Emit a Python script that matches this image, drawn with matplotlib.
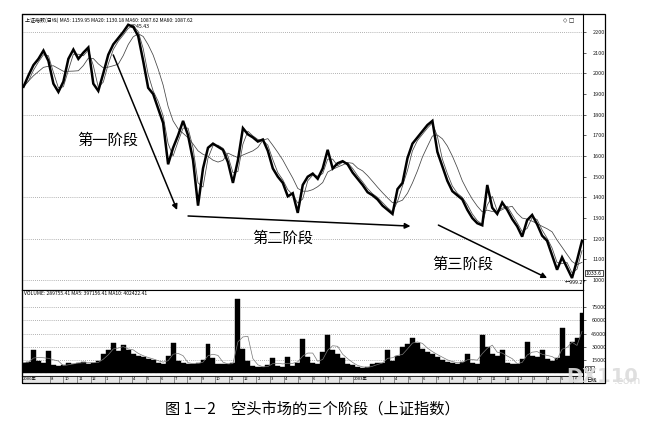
import numpy as np
import pandas as pd
import matplotlib
matplotlib.use("Agg")
import matplotlib.pyplot as plt
from matplotlib.patches import Rectangle

plt.rcParams['font.family'] = ['Noto Sans CJK SC', 'DejaVu Sans']

# closes, one every ~5 px
close = [
    1935, 1990, 2040, 2070, 2110, 2060, 1950, 1910, 1960, 2070,
    2115, 2070, 2100, 2125, 1950, 1915, 2000, 2090, 2140, 2170,
    2200, 2235, 2225, 2180, 2060, 1930, 1900, 1830, 1760, 1560,
    1640, 1700, 1770, 1700, 1580, 1360, 1540, 1640, 1660, 1645,
    1630, 1570, 1470, 1580, 1735, 1705, 1690, 1670, 1680, 1625,
    1540, 1500, 1470, 1405, 1420, 1325, 1460, 1500, 1515, 1490,
    1540, 1630, 1540, 1565, 1575, 1560, 1520, 1490, 1460, 1425,
    1410, 1390, 1360, 1340, 1320, 1440, 1470, 1590, 1660, 1690,
    1720, 1750, 1770, 1620, 1550, 1480, 1430, 1410, 1390, 1340,
    1300, 1275, 1265, 1460, 1350, 1320, 1375, 1340, 1295, 1260,
    1210, 1290, 1315, 1270, 1215, 1190, 1120, 1050, 1110, 1060,
    1010, 1095, 1190,
]
volume = [
    12000, 13000, 27000, 14000, 12000, 25000, 9000, 8000, 9000, 12000,
    11000, 12000, 13000, 11000, 12000, 14000, 22000, 27000, 34000, 25000,
    32000, 26000, 22000, 20000, 18000, 16000, 15000, 12000, 11000, 20000,
    34000, 14000, 12000, 10000, 11000, 12000, 15000, 33000, 17000, 11000,
    10000, 11000, 12000, 84000, 28000, 14000, 8000, 7000, 7000, 9000,
    17000, 8000, 7000, 19000, 8000, 12000, 39000, 18000, 12000, 11000,
    24000, 44000, 26000, 22000, 17000, 11000, 9000, 7000, 6000, 7000,
    11000, 12000, 12000, 27000, 14000, 20000, 30000, 33000, 40000, 34000,
    28000, 24000, 22000, 18000, 15000, 13000, 12000, 11000, 13000, 22000,
    12000, 11000, 44000, 30000, 22000, 20000, 27000, 12000, 11000, 10000,
    16000, 36000, 20000, 18000, 27000, 16000, 14000, 17000, 51000, 20000,
    35000, 40000, 68000,
]
price_ticks = [2200, 2100, 2000, 1900, 1800, 1700, 1600, 1500, 1400, 1300, 1200, 1100, 1000]
price_grid = [2200, 2000, 1800, 1600, 1400, 1200, 1000]
vol_ticks = [75000, 60000, 45000, 30000, 15000]
stage_labels = ["第一阶段", "第二阶段", "第三阶段"]
# "" keeps an empty slot after a long label
date_labels = ["2000年", "", "8", "10", "11", "12", "1", "3", "4", "5", "6", "7",
               "8", "9", "10", "11", "12", "2", "3", "4", "5", "6", "7", "8",
               "2003年", "", "3", "4", "5", "6", "7", "8", "9", "10", "11", "12",
               "2", "3", "4", "5", "6"]
caption = "图 1－2　空头市场的三个阶段（上证指数）"

s = pd.Series(close, dtype=float)
ma_fast = s.rolling(2, min_periods=1).mean()
ma_slow = s.rolling(6, min_periods=1).mean()
x = np.arange(len(close))

W, H = 651, 422
fig = plt.figure(figsize=(W / 100, H / 100), dpi=100)
L, R = 22 / W, 583 / W
ax = fig.add_axes([L, 1 - 290 / H, R - L, (290 - 14) / H])
axv = fig.add_axes([L, 1 - 376 / H, R - L, (376 - 290) / H])

# price panel
for g in price_grid:
    ax.axhline(g, color="#999999", lw=0.6, ls=(0, (1, 1.5)), zorder=0)
ax.plot(x, ma_slow, color="#444444", lw=0.55)
ax.plot(x, ma_fast, color="#444444", lw=0.55)
ax.plot(x, close, color="black", lw=1.8, solid_joinstyle="miter")
ax.set_xlim(-0.3, 112.2)
ax.set_ylim(952, 2287)
ax.set_xticks([])
ax.yaxis.tick_right()
ax.set_yticks(price_ticks)
ax.set_yticklabels([str(t) for t in price_ticks])
ax.tick_params(axis="y", labelsize=4, length=2, width=0.5, pad=5, colors="#222222")
for sp in ax.spines.values():
    sp.set_linewidth(0.8)

ax.text(0.006, 0.988, "上证指数(日线) MA5: 1159.95 MA20: 1130.18 MA60: 1087.62 MA60: 1087.62",
        transform=ax.transAxes, fontsize=3.6, va="top", ha="left")
ax.text(21.6, 2228, "2245.43", fontsize=3.8, va="center", ha="left")
ax.text(108.5, 990, "←999.27", fontsize=3.8, va="center", ha="left")
ax.text(0.985, 0.985, "◇ □", transform=ax.transAxes, fontsize=4, va="top", ha="right",
        family=["DejaVu Sans"])
ax.text(1.005, 1033.6, "1033.6", transform=ax.get_yaxis_transform(), fontsize=3.8,
        va="center", ha="left", bbox=dict(boxstyle="square,pad=0.15", fc="white", ec="black", lw=0.5))

# stage arrows and labels
arrow = dict(arrowstyle="-|>", color="black", lw=1.1, mutation_scale=8, shrinkA=0, shrinkB=0)
ax.annotate("", xy=(30.8, 1339), xytext=(18, 2089), arrowprops=arrow)
ax.annotate("", xy=(77.6, 1261), xytext=(33, 1310), arrowprops=arrow)
ax.annotate("", xy=(105, 1010), xytext=(83.2, 1266), arrowprops=arrow)
ax.text(17, 1677, stage_labels[0], fontsize=11, ha="center", va="center", fontweight="light")
ax.text(52, 1203, stage_labels[1], fontsize=11, ha="center", va="center", fontweight="light")
ax.text(88, 1078, stage_labels[2], fontsize=11, ha="center", va="center", fontweight="light")

# volume panel
for g in vol_ticks:
    axv.axhline(g, color="#999999", lw=0.6, ls=(0, (1, 1.5)), zorder=0)
axv.bar(x, volume, width=1.0, color="black", edgecolor="black", lw=0.3)
axv.plot(x, pd.Series(volume).rolling(3, min_periods=1).mean(), color="#777777", lw=0.5)
axv.set_xlim(-0.3, 112.2)
axv.set_ylim(-3070, 94660)
axv.set_xticks([])
axv.yaxis.tick_right()
axv.set_yticks(vol_ticks)
axv.set_yticklabels([str(t) for t in vol_ticks])
axv.tick_params(axis="y", labelsize=4, length=2, width=0.5, pad=4, colors="#222222")
for sp in axv.spines.values():
    sp.set_linewidth(0.8)
axv.text(0.004, 0.985, "VOLUME: 289755.41 MA5: 397156.41 MA10: 402422.41",
         transform=axv.transAxes, fontsize=3.6, va="top", ha="left")
axv.text(1.004, 4500, "X10", transform=axv.get_yaxis_transform(), fontsize=3.5,
         va="center", ha="left", bbox=dict(boxstyle="square,pad=0.1", fc="white", ec="black", lw=0.4))

# date strip
axd = fig.add_axes([L, 1 - 383 / H, R - L, 7 / H])
axd.set_xlim(0, 1)
axd.set_ylim(0, 1)
axd.set_xticks([])
axd.set_yticks([])
axd.set_facecolor("#e6e6e6")
for sp in axd.spines.values():
    sp.set_linewidth(0.6)
pos = np.linspace(0.002, 0.985, len(date_labels))
for p, lab in zip(pos, date_labels):
    if lab:
        axd.text(p, 0.5, lab, fontsize=3.0, va="center", ha="left")
        axd.axvline(p - 0.002, color="#444444", lw=0.4)
fig.text(586 / W, 1 - 380 / H, "日线", fontsize=3.8, va="center", ha="left")

# outer frame
fig.add_artist(Rectangle((L, 1 - 383 / H), 605 / W - L, (383 - 14) / H,
                         transform=fig.transFigure, fill=False, ec="black", lw=0.9))

# watermark
fig.text(566 / W, 1 - 377 / H, "DX110", fontsize=14, fontweight="bold", color="#dcdcdc",
         va="center", ha="left", family=["DejaVu Sans"], zorder=0.5, alpha=0.9)
fig.text(614 / W, 1 - 381 / H, ".com", fontsize=8, color="#dcdcdc",
         va="center", ha="left", family=["DejaVu Sans"])

fig.text(312 / W, 1 - 409 / H, caption, fontsize=11, ha="center", va="center")

fig.savefig("out.png", dpi=100)
